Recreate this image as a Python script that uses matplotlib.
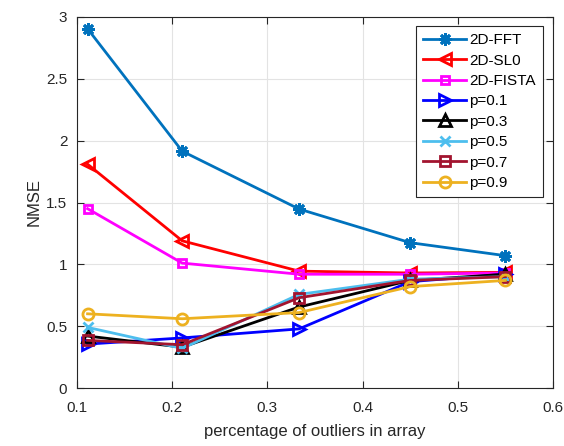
import matplotlib
matplotlib.use("Agg")
import matplotlib.pyplot as plt

plt.rcParams['font.family'] = ['Liberation Sans', 'DejaVu Sans']

x = [0.1111, 0.2105, 0.3333, 0.45, 0.55]
fft = [2.905, 1.915, 1.447, 1.175, 1.07]
sl0 = [1.81, 1.19, 0.945, 0.93, 0.935]
fista = [1.45, 1.01, 0.92, 0.92, 0.93]
p01 = [0.355, 0.405, 0.478, 0.86, 0.92]
p03 = [0.42, 0.33, 0.655, 0.87, 0.92]
p05 = [0.49, 0.32, 0.757, 0.88, 0.90]
p07 = [0.385, 0.35, 0.73, 0.87, 0.90]
p09 = [0.60, 0.56, 0.61, 0.82, 0.87]

labels = ['2D-FFT', '2D-SL0', '2D-FISTA', 'p=0.1', 'p=0.3', 'p=0.5', 'p=0.7', 'p=0.9']
series = [fft, sl0, fista, p01, p03, p05, p07, p09]
colors = ['#0072BD', '#FF0000', '#FF00FF', '#0000FF', '#000000', '#4DBEEE', '#A2142F', '#EDB120']
markers = [(8, 2, 0), '<', 's', '>', '^', 'x', 's', 'o']
msizes = [9, 8.5, 6, 8.5, 8.5, 6.5, 6.5, 8]

fig = plt.figure(figsize=(5.64, 4.46), dpi=100)
ax = fig.add_axes([77/564, 1-388/446, (553-77)/564, (388-17)/446])

for y, lab, c, m, ms in zip(series, labels, colors, markers, msizes):
    ax.plot(x, y, color=c, marker=m, markersize=ms, markerfacecolor='none',
            markeredgewidth=2, linewidth=2, label=lab)

ax.set_xlim(0.1, 0.6)
ax.set_ylim(0, 3)
ax.set_xticks([0.1, 0.2, 0.3, 0.4, 0.5, 0.6])
ax.set_xticklabels(['0.1', '0.2', '0.3', '0.4', '0.5', '0.6'])
ax.set_yticks([0, 0.5, 1, 1.5, 2, 2.5, 3])
ax.set_yticklabels(['0', '0.5', '1', '1.5', '2', '2.5', '3'])
ax.grid(True, color='#e3e3e3', linewidth=0.8)
ax.set_axisbelow(True)
ax.tick_params(direction='in', top=True, right=True, labelsize=11, colors='#262626', length=5)
ax.tick_params(axis='x', pad=9)
ax.tick_params(axis='y', pad=7)
for s in ax.spines.values():
    s.set_color('#262626')
    s.set_linewidth(0.8)
ax.set_xlabel('percentage of outliers in array', fontsize=12, color='#262626', labelpad=7)
ax.set_ylabel('NMSE', fontsize=12, color='#262626', labelpad=3)

leg = ax.legend(loc='upper right', bbox_to_anchor=(0.978, 0.975), fontsize=11, frameon=True,
                fancybox=False, edgecolor='#262626', framealpha=1, handlelength=2.8,
                labelspacing=0.42, borderpad=0.45, handletextpad=0.2, borderaxespad=0)
leg.get_frame().set_linewidth(0.8)

fig.savefig('out.png', dpi=100)
